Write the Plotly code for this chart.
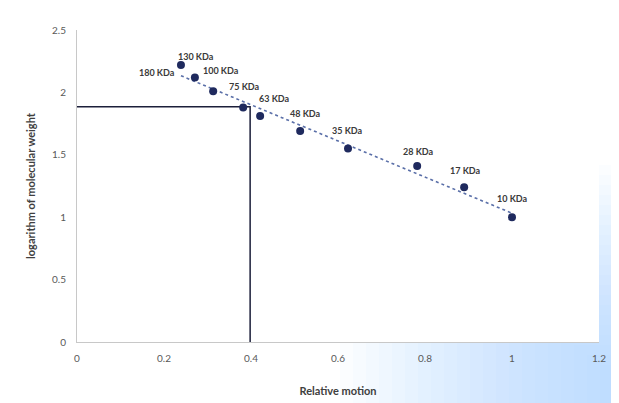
import numpy as np
import plotly.graph_objects as go

# ---- data ----
relative_motion = [0.239, 0.271, 0.313, 0.382, 0.421, 0.513, 0.623, 0.782, 0.890, 1.0]
log_mw = [2.22, 2.12, 2.01, 1.88, 1.81, 1.69, 1.55, 1.41, 1.24, 1.00]
marker_labels = ["180 KDa", "130 KDa", "100 KDa", "75 KDa", "63 KDa",
                 "48 KDa", "35 KDa", "28 KDa", "17 KDa", "10 KDa"]
unknown_x = 0.398
unknown_y = 1.885
x_ticks = [0, 0.2, 0.4, 0.6, 0.8, 1, 1.2]
y_ticks = [0, 0.5, 1, 1.5, 2, 2.5]

# label offsets in pixels (styling)
label_dx = [-24, 1, 8, 1, 14, 5, -1, 1, 1, 0]
label_dy = [-8, 21, 21, 21, 18, 18, 18, 15, 17, 19]

# page body has an 8px default margin; size the figure to compensate
OFF = 8
W, H = 619 - OFF, 403 - OFF
ml, mr, mt, mb = 77 - OFF, 20, 30 - OFF, 61
PW, PH = W - ml - mr, H - mt - mb

fig = go.Figure()

# linear trendline fitted to the data
slope, intercept = np.polyfit(relative_motion, log_mw, 1)
tx = [min(relative_motion), max(relative_motion)]
ty = [slope * v + intercept for v in tx]
fig.add_trace(go.Scatter(x=tx, y=ty, mode="lines",
                         line=dict(color="#5a6fa8", width=1.6, dash="dot"),
                         hoverinfo="skip", showlegend=False))

# reference lines for the unknown sample
fig.add_trace(go.Scatter(x=[0, unknown_x, unknown_x], y=[unknown_y, unknown_y, 0],
                         mode="lines", line=dict(color="#1c1f3a", width=1.5),
                         hoverinfo="skip", showlegend=False))

fig.add_trace(go.Scatter(x=relative_motion, y=log_mw, mode="markers",
                         marker=dict(color="#1f2a5e", size=8),
                         showlegend=False))

annotations = []
for x, y, t, dx, dy in zip(relative_motion, log_mw, marker_labels, label_dx, label_dy):
    annotations.append(dict(x=x, y=y, xref="x", yref="y", text="<b>" + t + "</b>",
                            showarrow=False, xshift=dx, yshift=dy,
                            font=dict(family="Lato, Open Sans, sans-serif", size=9, color="#3a3a3a")))

# soft blue background gradient at the bottom-right (photo background)
def px_to_paper_x(px):
    return (px - OFF - ml) / PW

def px_to_paper_y(py):
    return (H - mb - (py - OFF)) / PH

shapes = []
n = 22
for i in range(n):
    px0 = 340 + i * 13
    py0 = 165 + i * 10
    shapes.append(dict(type="rect", xref="paper", yref="paper", layer="below",
                       x0=px_to_paper_x(px0), x1=px_to_paper_x(640),
                       y0=px_to_paper_y(420), y1=px_to_paper_y(py0),
                       fillcolor="rgb(150,210,245)", opacity=0.04, line=dict(width=0)))
# white plot area on top of the gradient
shapes.append(dict(type="rect", xref="paper", yref="paper", layer="below",
                   x0=0, x1=1, y0=0, y1=1, fillcolor="white", line=dict(width=0)))

fig.update_layout(
    width=W, height=H,
    margin=dict(l=ml, r=mr, t=mt, b=mb),
    paper_bgcolor="white", plot_bgcolor="rgba(0,0,0,0)",
    font=dict(family="Lato, Open Sans, sans-serif", color="#595959"),
    annotations=annotations,
    shapes=shapes,
    xaxis=dict(range=[0, 1.2], tickvals=x_ticks, ticktext=[str(v) for v in x_ticks],
               showgrid=False, zeroline=False, showline=True, linecolor="#c8c8c8",
               linewidth=1, ticks="outside", ticklen=7, tickcolor="rgba(0,0,0,0)",
               automargin=False, tickfont=dict(size=10, color="#595959"),
               title=dict(text="<b>Relative motion</b>", font=dict(size=11, color="#404040"), standoff=24)),
    yaxis=dict(range=[0, 2.5], tickvals=y_ticks, ticktext=[str(v) for v in y_ticks],
               showgrid=False, zeroline=False, showline=True, linecolor="#c8c8c8",
               linewidth=1, ticks="outside", ticklen=8, tickcolor="rgba(0,0,0,0)",
               automargin=False, tickfont=dict(size=10, color="#595959"),
               title=dict(text="<b>logarithm of molecular weight</b>", font=dict(size=11, color="#404040"), standoff=14)),
)

fig.write_html("out.html")
